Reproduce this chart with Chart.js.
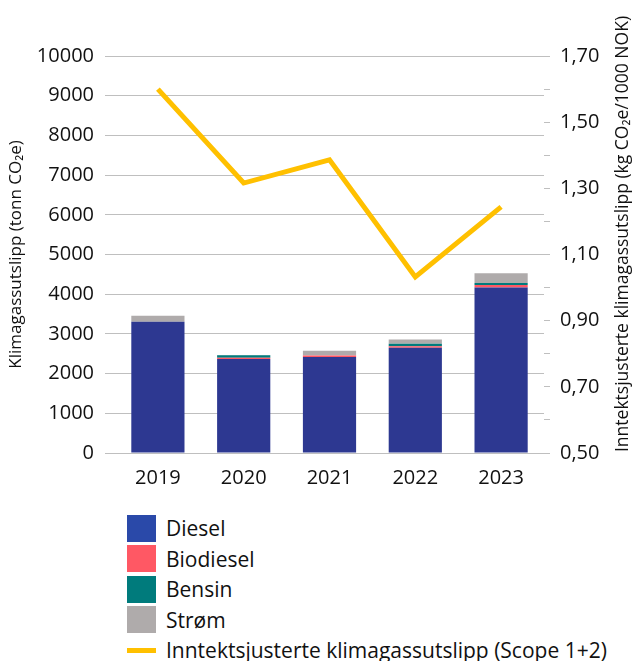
<!DOCTYPE html>
<html>
<head>
<meta charset="utf-8">
<script src="https://cdn.jsdelivr.net/npm/chart.js@4/dist/chart.umd.min.js"></script>
<style>
  body { margin: 0; background: #fff; font-family: "Open Sans", sans-serif; }
  #wrap { position: relative; width: 641px; height: 661px; }
  #box { position: absolute; left: 0; top: 0; width: 641px; height: 500px; }
  #legend { position: absolute; left: 127px; top: 513px; }
  .item { display: flex; align-items: center; height: 30.5px; font-size: 21px; color: #111; }
  .sw { width: 29px; height: 27px; margin-right: 10px; }
  .ln { width: 29px; height: 5px; margin-right: 10px; }
</style>
</head>
<body>
<div id="wrap">
  <div id="box"><canvas id="myChart"></canvas></div>
  <div id="legend"></div>
</div>
<script>
//Chart data
const years = ['2019', '2020', '2021', '2022', '2023'];
const diesel = [3307, 2370, 2418, 2650, 4170];
const biodiesel = [0, 30, 35, 40, 60];
const bensin = [0, 60, 0, 60, 50];
const strom = [150, 10, 120, 110, 250];
const intensity = [1.60, 1.316, 1.386, 1.032, 1.244];
const rightTicks = [0.5, 0.7, 0.9, 1.1, 1.3, 1.5, 1.7];

const grey = '#bfbfbf';
const font = 'Open Sans';

var data = {
  labels: years,
  datasets: [{
      type: 'line',
      label: 'Inntektsjusterte klimagassutslipp (Scope 1+2)',
      data: intensity,
      yAxisID: 'y1',
      borderColor: '#ffc000',
      backgroundColor: '#ffc000',
      borderWidth: 5,
      pointRadius: 0,
      tension: 0,
      order: 0
    }, {
      label: 'Diesel', data: diesel, backgroundColor: '#2d3891', legendColor: '#2a49a9', stack: 's', order: 1
    }, {
      label: 'Biodiesel', data: biodiesel, backgroundColor: '#ff5864', stack: 's', order: 1
    }, {
      label: 'Bensin', data: bensin, backgroundColor: '#007b7c', stack: 's', order: 1
    }, {
      label: 'Strøm', data: strom, backgroundColor: '#afabab', stack: 's', order: 1
    }
  ]
};

//Draws the right axis title reading upwards
const rightTitle = {
  id: 'rightTitle',
  afterDraw(chart) {
    const ctx = chart.ctx;
    ctx.save();
    ctx.translate(623, 234);
    ctx.rotate(-Math.PI / 2);
    ctx.font = '17.5px "' + font + '"';
    ctx.fillStyle = '#111';
    ctx.textAlign = 'center';
    ctx.textBaseline = 'middle';
    ctx.fillText('Inntektsjusterte klimagassutslipp (kg CO\u2082e/1000 NOK)', 0, 0);
    ctx.restore();
  }
};

var config = {
  type: 'bar',
  data: data,
  options: {
    responsive: true,
    maintainAspectRatio: false,
    animation: false,
    layout: { padding: { top: 56, left: 0, right: 0, bottom: 0 } },
    datasets: { bar: { barPercentage: 0.62, categoryPercentage: 1 } },
    plugins: { legend: { display: false }, tooltip: { enabled: false } },
    scales: {
      x: {
        stacked: true,
        grid: { display: false },
        border: { display: true, color: grey },
        ticks: { color: '#111', font: { family: font, size: 20 }, padding: 5 },
        afterFit: s => { s.height = 47; }
      },
      y: {
        stacked: true,
        min: 0, max: 10000,
        ticks: { stepSize: 1000, color: '#111', font: { family: font, size: 20 }, padding: 11, callback: v => String(v) },
        grid: { color: grey, tickLength: 10 },
        border: { display: false },
        title: { display: true, text: 'Klimagassutslipp (tonn CO\u2082e)', color: '#111', font: { family: font, size: 17 }, padding: { top: 6, bottom: 4 } },
        afterFit: s => { s.width = 115; }
      },
      y1: {
        position: 'right',
        min: 0.5, max: 1.7,
        ticks: {
          stepSize: 0.1, color: '#111', font: { family: font, size: 20 }, padding: 10,
          callback: v => rightTicks.some(t => Math.abs(t - v) < 1e-6) ? v.toFixed(2).replace('.', ',') : ''
        },
        grid: { drawOnChartArea: false, color: grey, tickLength: 6 },
        border: { display: false },
        afterFit: s => { s.width = 97; }
      }
    }
  },
  plugins: [rightTitle]
};

//Initializes Chart
var myChart = new Chart(document.getElementById('myChart'), config);

//Builds the legend list below the chart
var legend = document.getElementById('legend');
var order = [1, 2, 3, 4, 0];
order.forEach(function (i) {
  var ds = data.datasets[i];
  var row = document.createElement('div');
  row.className = 'item';
  var mark = document.createElement('span');
  mark.className = ds.type === 'line' ? 'ln' : 'sw';
  mark.style.background = ds.legendColor || ds.backgroundColor;
  row.appendChild(mark);
  row.appendChild(document.createTextNode(ds.label));
  legend.appendChild(row);
});
</script>
</body>
</html>
